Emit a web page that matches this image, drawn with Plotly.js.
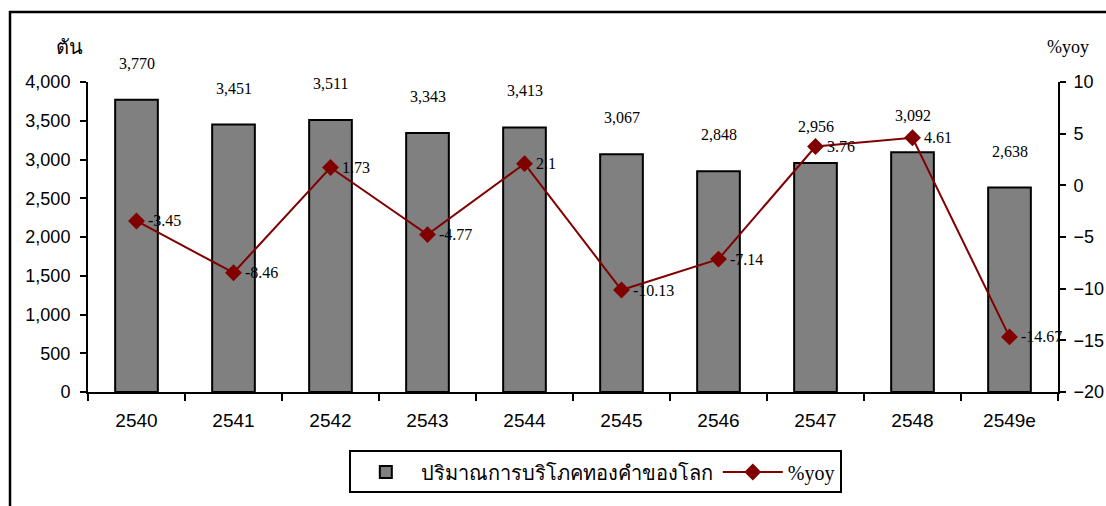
<!DOCTYPE html>
<html>
<head>
<meta charset="utf-8">
<script src="https://cdn.plot.ly/plotly-3.0.1.min.js"></script>
<style>html,body{margin:0;padding:0;background:#fff;}#chart{width:1106px;height:506px;}</style>
</head>
<body>
<div id="chart"></div>
<script>
const years = ["2540","2541","2542","2543","2544","2545","2546","2547","2548","2549e"];
const consumption = [3770, 3451, 3511, 3343, 3413, 3067, 2848, 2956, 3092, 2638];
const yoy = [-3.45, -8.46, 1.73, -4.77, 2.1, -10.13, -7.14, 3.76, 4.61, -14.67];
const barName = "ปริมาณการบริโภคทองคำของโลก";
const lineName = "%yoy";
const leftTitle = "ตัน";
const rightTitle = "%yoy";

const serif = "Liberation Serif, Times New Roman, serif";
const sans = "Liberation Sans, Arial, sans-serif";

const traces = [
  {
    type: "bar", x: years, y: consumption, name: barName, width: 0.44,
    marker: {color: "#808080", line: {color: "#000", width: 2}},
    hoverinfo: "skip"
  },
  {
    type: "scatter", mode: "lines+markers", x: years, y: yoy, name: lineName, yaxis: "y2",
    line: {color: "#800000", width: 2},
    marker: {symbol: "diamond", size: 13, color: "#800000"},
    hoverinfo: "skip"
  }
];

const annotations = [];
years.forEach((yr, i) => {
  annotations.push({
    x: i, y: consumption[i], xref: "x", yref: "y",
    text: consumption[i].toLocaleString("en-US"),
    showarrow: false, yanchor: "bottom", yshift: 26,
    font: {family: serif, size: 16, color: "#000"}
  });
  annotations.push({
    x: i, y: yoy[i], xref: "x", yref: "y2",
    text: String(yoy[i]),
    showarrow: false, xanchor: "left", yanchor: "middle", xshift: 9,
    font: {family: serif, size: 16, color: "#000"}
  });
});
annotations.push({
  x: -0.0186, y: 1.113, xref: "paper", yref: "paper", text: leftTitle,
  showarrow: false, yanchor: "middle", xanchor: "center",
  font: {family: serif, size: 20, color: "#000"}
});
annotations.push({
  x: 1.0103, y: 1.113, xref: "paper", yref: "paper", text: rightTitle,
  showarrow: false, yanchor: "middle", xanchor: "center",
  font: {family: serif, size: 18, color: "#000"}
});

const layout = {
  width: 1106, height: 506,
  margin: {l: 88, r: 48, t: 82, b: 114},
  paper_bgcolor: "#fff", plot_bgcolor: "#fff",
  showlegend: true,
  legend: {
    orientation: "h", x: 0.523, y: -0.258, xanchor: "center", yanchor: "middle",
    bordercolor: "#000", borderwidth: 2, bgcolor: "#fff",
    font: {family: serif, size: 20, color: "#000"},
    itemwidth: 60
  },
  xaxis: {
    type: "category", range: [-0.5, 9.5], showline: true, linecolor: "#000", linewidth: 2,
    ticks: "outside", ticklen: 7, tickwidth: 2, tickcolor: "#000",
    tickson: "boundaries", showgrid: false, zeroline: false,
    tickfont: {family: sans, size: 19, color: "#000"},
    ticklabelstandoff: 10, tickangle: 0
  },
  yaxis: {
    range: [0, 4000], dtick: 500, tickformat: ",d",
    showline: true, linecolor: "#000", linewidth: 2,
    ticks: "outside", ticklen: 6, tickwidth: 2, tickcolor: "#000",
    showgrid: false, zeroline: false,
    tickfont: {family: sans, size: 18, color: "#000"},
    ticklabelstandoff: 6
  },
  yaxis2: {
    range: [-20, 10], dtick: 5, overlaying: "y", side: "right",
    showline: true, linecolor: "#000", linewidth: 2,
    ticks: "outside", ticklen: 6, tickwidth: 2, tickcolor: "#000",
    showgrid: false, zeroline: false,
    tickfont: {family: sans, size: 18, color: "#000"},
    ticklabelstandoff: 4
  },
  shapes: [{
    type: "rect", xref: "paper", yref: "paper",
    x0: -0.0804, x1: 1.3, y0: -0.7, y1: 1.2258,
    line: {color: "#000", width: 2.5}, fillcolor: "rgba(0,0,0,0)", layer: "below"
  }],
  annotations: annotations
};

Plotly.newPlot("chart", traces, layout, {staticPlot: true, displayModeBar: false});
</script>
</body>
</html>
